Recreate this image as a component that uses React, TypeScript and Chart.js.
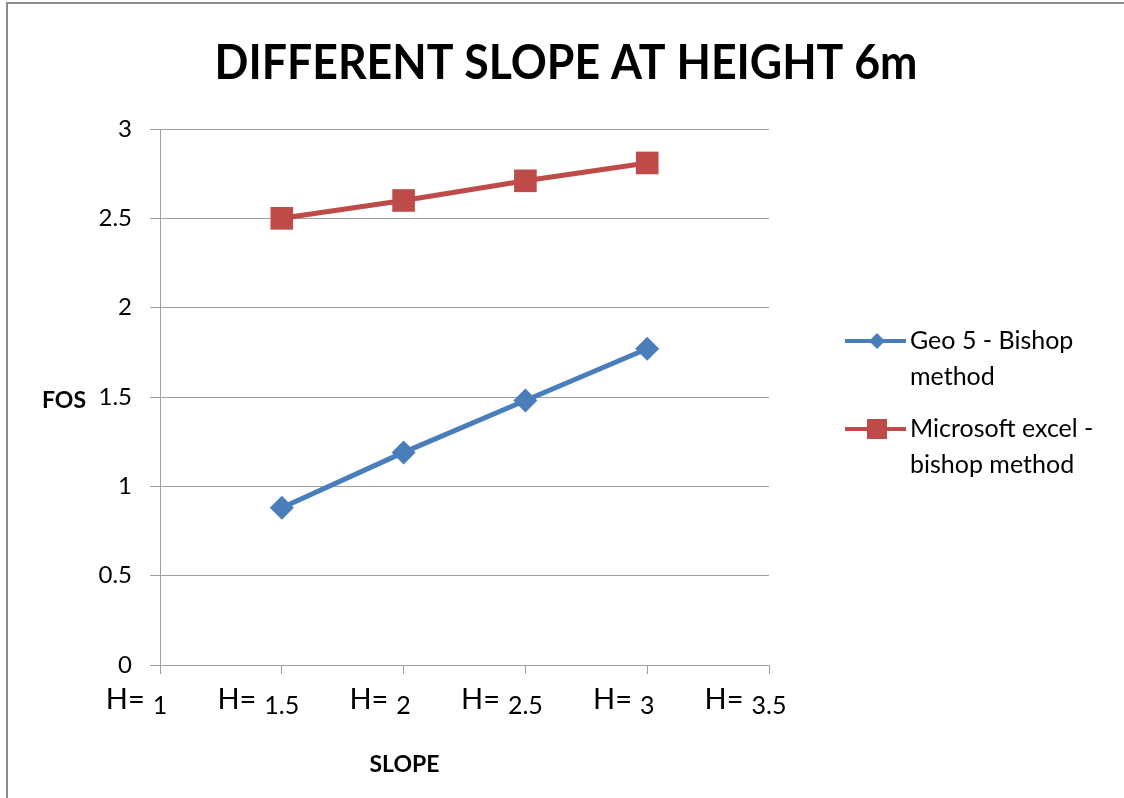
import React, { useEffect, useRef } from 'react';
import { Chart, registerables } from 'chart.js';

Chart.register(...registerables);

// ---- chart content ----
const CHART_TITLE = 'DIFFERENT SLOPE AT HEIGHT 6m';
const X_AXIS_TITLE = 'SLOPE';
const Y_AXIS_TITLE = 'FOS';
const X_TICK_PREFIX = 'H=';

// slope ratio (horizontal : 1)
const SLOPE_VALUES = [1.5, 2, 2.5, 3];
// factor of safety from each method
const GEO5_FOS = [0.88, 1.19, 1.48, 1.77];
const EXCEL_FOS = [2.5, 2.6, 2.71, 2.81];

const GEO5_LABEL_LINES = ['Geo 5 - Bishop', 'method'];
const EXCEL_LABEL_LINES = ['Microsoft excel -', 'bishop method'];

const X_RANGE = [1, 3.5];
const X_STEP = 0.5;
const Y_RANGE = [0, 3];
const Y_STEP = 0.5;

const BLUE = '#4a7ebb';
const RED = '#be4b48';
const GRID = '#a0a0a0';
const FONT = 'Lato, "Open Sans", sans-serif';
const X_TICK_SIZE = 25;

function drawMarker(ctx: CanvasRenderingContext2D, style: string, x: number, y: number, r: number, color: string) {
  ctx.save();
  ctx.fillStyle = color;
  ctx.beginPath();
  if (style === 'rectRot') {
    ctx.moveTo(x - r, y);
    ctx.lineTo(x, y - r);
    ctx.lineTo(x + r, y);
    ctx.lineTo(x, y + r);
    ctx.closePath();
  } else {
    ctx.rect(x - r, y - r, 2 * r, 2 * r);
  }
  ctx.fill();
  ctx.restore();
}

// Frame, title, axis titles, "H=" prefixes and the side legend
const decorations = {
  id: 'decorations',
  afterDraw(chart: any) {
    const ctx: CanvasRenderingContext2D = chart.ctx;
    const area = chart.chartArea;
    ctx.save();

    // outer frame edges
    ctx.fillStyle = '#8c8c8c';
    ctx.fillRect(6, 2, chart.width - 6, 2);
    ctx.fillRect(6, 2, 2, chart.height - 2);

    // title
    ctx.fillStyle = '#000';
    ctx.font = `bold 47px ${FONT}`;
    ctx.textBaseline = 'alphabetic';
    ctx.textAlign = 'center';
    const tw = ctx.measureText(CHART_TITLE).width;
    const sx = Math.min(1, 703 / tw);
    ctx.save();
    ctx.translate(566, 79);
    ctx.scale(sx, 1);
    ctx.fillText(CHART_TITLE, 0, 0);
    ctx.restore();

    // axis titles
    ctx.font = `bold 23px ${FONT}`;
    ctx.textAlign = 'center';
    ctx.fillText(Y_AXIS_TITLE, 64, 408);
    ctx.fillText(X_AXIS_TITLE, (area.left + area.right) / 2 - 60, 772);

    // "H=" in front of each x tick value
    const xs = chart.scales.x;
    ctx.font = `${X_TICK_SIZE}px ${FONT}`;
    const numWidths = xs.ticks.map((t: any) => ctx.measureText(String(t.label)).width);
    ctx.font = `29px ${FONT}`;
    ctx.textAlign = 'right';
    xs.ticks.forEach((t: any, i: number) => {
      const px = xs.getPixelForValue(t.value);
      ctx.fillText(X_TICK_PREFIX, px - numWidths[i] / 2 - 8, 709);
    });

    // legend
    const items = [
      { lines: GEO5_LABEL_LINES, ds: chart.data.datasets[0], r: 8 },
      { lines: EXCEL_LABEL_LINES, ds: chart.data.datasets[1], r: 10 },
    ];
    const lineH = 36;
    let y = 341;
    ctx.font = `25px ${FONT}`;
    ctx.textAlign = 'left';
    ctx.textBaseline = 'middle';
    items.forEach((it) => {
      const color = it.ds.borderColor as string;
      ctx.strokeStyle = color;
      ctx.lineWidth = 4;
      ctx.beginPath();
      ctx.moveTo(845, y);
      ctx.lineTo(906, y);
      ctx.stroke();
      drawMarker(ctx, it.ds.pointStyle, 877, y, it.r, color);
      ctx.fillStyle = '#000';
      it.lines.forEach((ln, k) => ctx.fillText(ln, 910, y + k * lineH));
      y += it.lines.length * lineH + 16;
    });

    ctx.restore();
  },
};

const plainNumber = (v: any) => String(Number(v));

export default function App() {
  const canvasRef = useRef<HTMLCanvasElement | null>(null);

  useEffect(() => {
    const canvas = canvasRef.current;
    if (!canvas) return;
    const chart = new Chart(canvas, {
      type: 'line',
      data: {
        datasets: [
          {
            label: GEO5_LABEL_LINES.join(' '),
            data: SLOPE_VALUES.map((x, i) => ({ x, y: GEO5_FOS[i] })),
            borderColor: BLUE,
            backgroundColor: BLUE,
            borderWidth: 5,
            pointStyle: 'rectRot',
            pointRadius: 12,
            pointBorderWidth: 0,
          },
          {
            label: EXCEL_LABEL_LINES.join(' '),
            data: SLOPE_VALUES.map((x, i) => ({ x, y: EXCEL_FOS[i] })),
            borderColor: RED,
            backgroundColor: RED,
            borderWidth: 5,
            pointStyle: 'rect',
            pointRadius: 16,
            pointBorderWidth: 0,
          },
        ],
      },
      options: {
        responsive: false,
        animation: false,
        devicePixelRatio: 1,
        events: [],
        layout: { padding: { top: 129, right: 355, bottom: 0, left: 0 } },
        plugins: {
          legend: { display: false },
          title: { display: false },
          tooltip: { enabled: false },
        },
        scales: {
          x: {
            type: 'linear',
            min: X_RANGE[0],
            max: X_RANGE[1],
            afterFit: (s: any) => {
              s.height = 133;
            },
            ticks: {
              stepSize: X_STEP,
              color: '#000',
              font: { family: FONT, size: X_TICK_SIZE },
              padding: 17,
              maxRotation: 0,
              callback: plainNumber,
            },
            grid: {
              drawOnChartArea: false,
              drawTicks: true,
              tickLength: 9,
              color: GRID,
            },
            border: { display: true, color: GRID, width: 1 },
          },
          y: {
            min: Y_RANGE[0],
            max: Y_RANGE[1],
            afterFit: (s: any) => {
              s.width = 160;
            },
            ticks: {
              stepSize: Y_STEP,
              color: '#000',
              font: { family: FONT, size: 24 },
              padding: 18,
              callback: plainNumber,
            },
            grid: {
              drawTicks: true,
              tickLength: 10,
              color: GRID,
            },
            border: { display: true, color: GRID, width: 1 },
          },
        },
      },
      plugins: [decorations],
    });
    return () => chart.destroy();
  }, []);

  return (
    <div style={{ position: 'absolute', left: 0, top: 0, width: 1124, height: 798, background: '#fff' }}>
      <canvas ref={canvasRef} width={1124} height={798} style={{ display: 'block' }} />
    </div>
  );
}
